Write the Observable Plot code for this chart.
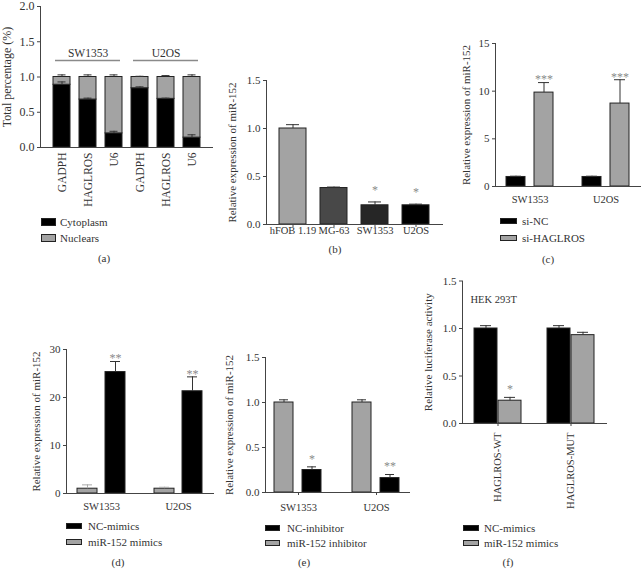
<!DOCTYPE html>
<html><head><meta charset="utf-8">
<script src="https://cdn.jsdelivr.net/npm/d3@7"></script>
<script src="https://cdn.jsdelivr.net/npm/@observablehq/plot@0.6"></script>
<style>
body{margin:0;background:#fff;}
#root{position:relative;width:642px;height:570px;font-family:"Liberation Serif","Times New Roman",serif;color:#333;overflow:hidden;background:#fff}
.panel{position:absolute}
.cap{position:absolute;font-size:11px;transform:translate(-50%,-50%);white-space:nowrap}
.leg{position:absolute;display:flex;align-items:center;height:16px;font-size:11px;white-space:nowrap;line-height:1}
.sw{display:inline-block;box-sizing:border-box;border:1px solid #222}
</style></head><body><div id="root"></div>
<script>
// ---------- data ----------
// (a)
const aGroups = ["SW1353", "U2OS"];
const aCells = ["GADPH", "HAGLROS", "U6"];
const aParts = ["Cytoplasm", "Nuclears"];
const aCytoplasm = [0.89, 0.68, 0.20, 0.84, 0.69, 0.14];
const aNuclears = [0.11, 0.32, 0.80, 0.16, 0.31, 0.86];
const aCytoErr = [0.04, 0.02, 0.03, 0.02, 0.01, 0.04];
const aTotalErr = [0.03, 0.03, 0.03, 0.01, 0.02, 0.03];
const aTicks = [0, 0.5, 1, 1.5, 2];
// (b)
const bCells = ["hFOB 1.19", "MG-63", "SW1353", "U2OS"];
const bValues = [1.00, 0.38, 0.20, 0.20];
const bErr = [0.04, 0.01, 0.035, 0.012];
const bSig = ["", "", "*", "*"];
const bTicks = [0, 0.5, 1, 1.5];
// (c)
const cGroups = ["SW1353", "U2OS"];
const cSeries = ["si-NC", "si-HAGLROS"];
const cNC = [1.0, 1.0];
const cNCErr = [0.08, 0.08];
const cSi = [9.85, 8.7];
const cSiErr = [1.05, 2.5];
const cSig = ["***", "***"];
const cTicks = [0, 5, 10, 15];
// (d)
const dGroups = ["SW1353", "U2OS"];
const dSeries = ["NC-mimics", "miR-152 mimics"];
const dNC = [25.3, 21.3];
const dNCErr = [2.2, 3.0];
const dMimics = [1.0, 1.0];
const dMimicsErr = [0.8, 0.3];
const dSig = ["**", "**"];
const dTicks = [0, 10, 20, 30];
// (e)
const eGroups = ["SW1353", "U2OS"];
const eSeries = ["NC-inhibitor", "miR-152 inhibitor"];
const eNC = [0.25, 0.16];
const eNCErr = [0.035, 0.04];
const eInh = [1.0, 1.0];
const eInhErr = [0.03, 0.03];
const eSig = ["*", "**"];
const eTicks = [0, 0.5, 1, 1.5];
// (f)
const fGroups = ["HAGLROS-WT", "HAGLROS-MUT"];
const fSeries = ["NC-mimics", "miR-152 mimics"];
const fNC = [1.0, 1.0];
const fNCErr = [0.03, 0.03];
const fMimics = [0.24, 0.93];
const fMimicsErr = [0.035, 0.03];
const fSig = ["*", ""];
const fTicks = [0, 0.5, 1, 1.5];
const yLabelExpr = "Relative expression of miR-152";

// ---------- style ----------
const FONT = "'Liberation Serif','Times New Roman',serif";
const INK = "#333", AXIS = "#444", GRAY = "#a3a3a3", BLACK = "#000", STAR = "#8a8a8a", EDGE = "#222";
const root = document.getElementById("root");
const st = () => ({fontFamily: FONT, fontSize: "10px", color: INK, background: "transparent", overflow: "visible"});
function place(el, left, top) { el.classList.add("panel"); el.style.left = left + "px"; el.style.top = top + "px"; root.append(el); }
function caption(t, cx, cy) { const d = document.createElement("div"); d.className = "cap"; d.textContent = t; d.style.left = cx + "px"; d.style.top = cy + "px"; root.append(d); }
function legend(left, centers, items, w, h, gap) {
  items.forEach((it, i) => {
    const row = document.createElement("div"); row.className = "leg";
    row.style.left = left + "px"; row.style.top = (centers[i] - 8) + "px";
    const sw = document.createElement("span"); sw.className = "sw";
    sw.style.width = w + "px"; sw.style.height = h + "px"; sw.style.background = it.color; sw.style.marginRight = gap + "px";
    const tx = document.createElement("span"); tx.textContent = it.label;
    row.append(sw, tx); root.append(row);
  });
}
const yAxis = (ticks, fmt, label, offset, fs = 11) => Plot.axisY({ticks, tickFormat: fmt, tickSize: 3, tickPadding: 3, fontSize: fs, stroke: AXIS, fill: INK, label, labelAnchor: "center", labelOffset: offset, labelArrow: "none"});

// grouped rows
function rows(groups, series, v0, e0, v1, e1, sig0, sig1) {
  return groups.flatMap((g, i) => [
    {g, s: series[0], v: v0[i], e: e0[i], sig: sig0 ? sig0[i] : ""},
    {g, s: series[1], v: v1[i], e: e1[i], sig: sig1 ? sig1[i] : ""}
  ]);
}

// ---------- (a) ----------
const aKeys = aGroups.flatMap(g => aCells.map(c => `${g}|${c}`));
const aBars = aKeys.flatMap((k, i) => [{key: k, part: aParts[0], v: aCytoplasm[i]}, {key: k, part: aParts[1], v: aNuclears[i]}]);
const aErrs = aKeys.flatMap((k, i) => [
  {key: k, lo: aCytoplasm[i], hi: aCytoplasm[i] + aCytoErr[i]},
  {key: k, lo: aCytoplasm[i] + aNuclears[i], hi: aCytoplasm[i] + aNuclears[i] + aTotalErr[i]}
]);
const aSpans = aGroups.map(g => ({g, first: `${g}|${aCells[0]}`, mid: `${g}|${aCells[1]}`, last: `${g}|${aCells[aCells.length - 1]}`}));
place(Plot.plot({
  width: 214, height: 215, marginLeft: 40, marginRight: 1, marginTop: 6, marginBottom: 68,
  style: st(),
  x: {domain: aKeys, paddingInner: 0.33, paddingOuter: 0.37},
  y: {domain: [0, 2]},
  color: {domain: aParts, range: [BLACK, GRAY]},
  marks: [
    Plot.barY(aBars, {x: "key", y: "v", fill: "part", stroke: EDGE, strokeWidth: 1}),
    Plot.ruleX(aErrs, {x: "key", y1: "lo", y2: "hi", stroke: INK}),
    Plot.tickY(aErrs, {x: "key", y: "hi", stroke: INK, insetLeft: 4.5, insetRight: 4.5}),
    Plot.ruleY(aSpans, {x1: "first", x2: "last", y: () => 1.235, stroke: "#8a8a8a", strokeWidth: 1.5, insetLeft: 2, insetRight: 2}),
    Plot.text(aSpans, {x: "mid", y: () => 1.33, text: "g", fontSize: 11.5, fill: INK}),
    yAxis(aTicks, d3.format(".1f"), "Total percentage (%)", 38.5, 12),
    Plot.axisX({tickFormat: k => k.split("|")[1], tickRotate: -90, tickSize: 0, tickPadding: 5, fontSize: 11.5, fill: INK, label: null}),
    Plot.frame({anchor: "left", stroke: AXIS}),
    Plot.ruleY([0], {stroke: AXIS})
  ]
}), 0, 0);
legend(41, [222, 238], aParts.map((p, i) => ({label: p, color: [BLACK, GRAY][i]})), 15, 8, 4);
caption("(a)", 104, 258);

// ---------- (b) ----------
const bRows = bCells.map((c, i) => ({c, v: bValues[i], e: bErr[i], sig: bSig[i]}));
place(Plot.plot({
  width: 230, height: 170, marginLeft: 46, marginRight: 7, marginTop: 10, marginBottom: 16,
  style: st(),
  x: {domain: bCells, paddingInner: 0.33, paddingOuter: 0.29},
  y: {domain: [0, 1.5]},
  color: {domain: bCells, range: [GRAY, "#484848", "#262626", BLACK]},
  marks: [
    Plot.barY(bRows, {x: "c", y: "v", fill: "c", stroke: EDGE}),
    Plot.ruleX(bRows, {x: "c", y1: "v", y2: d => d.v + d.e, stroke: INK}),
    Plot.tickY(bRows, {x: "c", y: d => d.v + d.e, stroke: INK, insetLeft: 7, insetRight: 7}),
    Plot.text(bRows, {x: "c", y: d => d.v + d.e, text: "sig", dy: -12, fill: STAR, fontSize: 12}),
    yAxis(bTicks, d3.format(".1f"), yLabelExpr, 38),
    Plot.axisX({tickSize: 3, tickPadding: -1, fontSize: 10.5, fill: INK, stroke: AXIS, label: null}),
    Plot.frame({anchor: "left", stroke: AXIS}),
    Plot.ruleY([0], {stroke: AXIS})
  ]
}), 220, 70);
caption("(b)", 335, 249);

// ---------- grouped panel helper ----------
// fx facets sit flush against the y axis (paddingOuter 0); bars are inset inside each facet by the x scale's outer padding
function grouped({data, groups, series, colors, ticks, fmt, ylabel, labelOffset, yMax, dims, fxPadInner, xPad, capInset, starDy, fxAxis, extra = [], errColors}) {
  const errStroke = errColors ? d => errColors[series.indexOf(d.s)] : INK;
  return Plot.plot({
    ...dims,
    style: st(),
    fx: {domain: groups, paddingInner: fxPadInner, paddingOuter: 0},
    x: {domain: series, paddingInner: xPad[0], paddingOuter: xPad[1], axis: null},
    y: {domain: [0, yMax]},
    color: {domain: series, range: colors},
    marks: [
      Plot.barY(data, {fx: "g", x: "s", y: "v", fill: "s", stroke: EDGE}),
      Plot.ruleX(data, {fx: "g", x: "s", y1: "v", y2: d => d.v + d.e, stroke: errStroke}),
      Plot.tickY(data, {fx: "g", x: "s", y: d => d.v + d.e, stroke: errStroke, insetLeft: capInset, insetRight: capInset}),
      Plot.text(data, {fx: "g", x: "s", y: d => d.v + d.e, text: "sig", dy: starDy, fill: STAR, fontSize: 12}),
      yAxis(ticks, fmt, ylabel, labelOffset),
      Plot.axisFx({anchor: "bottom", fontSize: 10.5, fill: INK, stroke: AXIS, label: null, ...fxAxis}),
      Plot.frame({anchor: "left", stroke: AXIS, facet: "super"}),
      Plot.frame({anchor: "bottom", stroke: AXIS, facet: "super"}),
      ...extra
    ]
  });
}

// ---------- (c) ----------
place(grouped({
  data: rows(cGroups, cSeries, cNC, cNCErr, cSi, cSiErr, null, cSig),
  groups: cGroups, series: cSeries, colors: [BLACK, GRAY], ticks: cTicks, fmt: d3.format("d"),
  ylabel: yLabelExpr, labelOffset: 33, yMax: 15,
  dims: {width: 197, height: 180, marginLeft: 50, marginRight: 1, marginTop: 13, marginBottom: 24},
  fxPadInner: 0.091, xPad: [0.316, 0.386], capInset: 4, starDy: -3,
  fxAxis: {tickSize: 0, tickPadding: 9}
}), 445, 30);
legend(500, [221, 238], cSeries.map((s, i) => ({label: s, color: [BLACK, GRAY][i]})), 17, 6, 5);
caption("(c)", 548, 259);

// ---------- (d) ----------
const dOrder = [dSeries[1], dSeries[0]];
place(grouped({
  data: rows(dGroups, dOrder, dMimics, dMimicsErr, dNC, dNCErr, null, dSig),
  groups: dGroups, series: dOrder, colors: [GRAY, BLACK], ticks: dTicks, fmt: d3.format("d"),
  ylabel: yLabelExpr, labelOffset: 34, yMax: 30,
  dims: {width: 214, height: 190, marginLeft: 66, marginRight: 1, marginTop: 19, marginBottom: 27},
  fxPadInner: 0.091, xPad: [0.30, 0.40], capInset: 5, starDy: -3,
  fxAxis: {tickSize: 0, tickPadding: 9}, errColors: ["#aaa", INK]
}), 0, 330);
legend(66, [526, 542], dSeries.map((s, i) => ({label: s, color: [BLACK, GRAY][i]})), 16, 6, 6);
caption("(d)", 118, 562);

// ---------- (e) ----------
const eOrder = [eSeries[1], eSeries[0]];
place(grouped({
  data: rows(eGroups, eOrder, eInh, eInhErr, eNC, eNCErr, null, eSig),
  groups: eGroups, series: eOrder, colors: [GRAY, BLACK], ticks: eTicks, fmt: d3.format(".1f"),
  ylabel: yLabelExpr, labelOffset: 40, yMax: 1.5,
  dims: {width: 200, height: 180, marginLeft: 45, marginRight: 11, marginTop: 17, marginBottom: 28},
  fxPadInner: 0.154, xPad: [0.31, 0.293], capInset: 5, starDy: -8,
  fxAxis: {tickSize: 3, tickPadding: 8}
}), 220, 340);
legend(265, [528, 543], eSeries.map((s, i) => ({label: s, color: [BLACK, GRAY][i]})), 15, 6, 7);
caption("(e)", 304, 562);

// ---------- (f) ----------
place(grouped({
  data: rows(fGroups, fSeries, fNC, fNCErr, fMimics, fMimicsErr, null, fSig),
  groups: fGroups, series: fSeries, colors: [BLACK, GRAY], ticks: fTicks, fmt: d3.format(".1f"),
  ylabel: "Relative luciferase activity", labelOffset: 38, yMax: 1.5,
  dims: {width: 222, height: 250, marginLeft: 41, marginRight: 35, marginTop: 10.5, marginBottom: 97},
  fxPadInner: 0.027, xPad: [0.04, 0.46], capInset: 6, starDy: -8,
  fxAxis: {tickSize: 3, tickPadding: 6, tickRotate: -90},
  extra: [Plot.text(["HEK 293T"], {text: d => d, frameAnchor: "top-left", dx: 8, dy: 15, textAnchor: "start", fontSize: 10.5, fill: INK, facet: "super"})]
}), 420, 270);
legend(463, [528, 543], fSeries.map((s, i) => ({label: s, color: [BLACK, GRAY][i]})), 16, 6, 5);
caption("(f)", 508, 562);
</script></body></html>
